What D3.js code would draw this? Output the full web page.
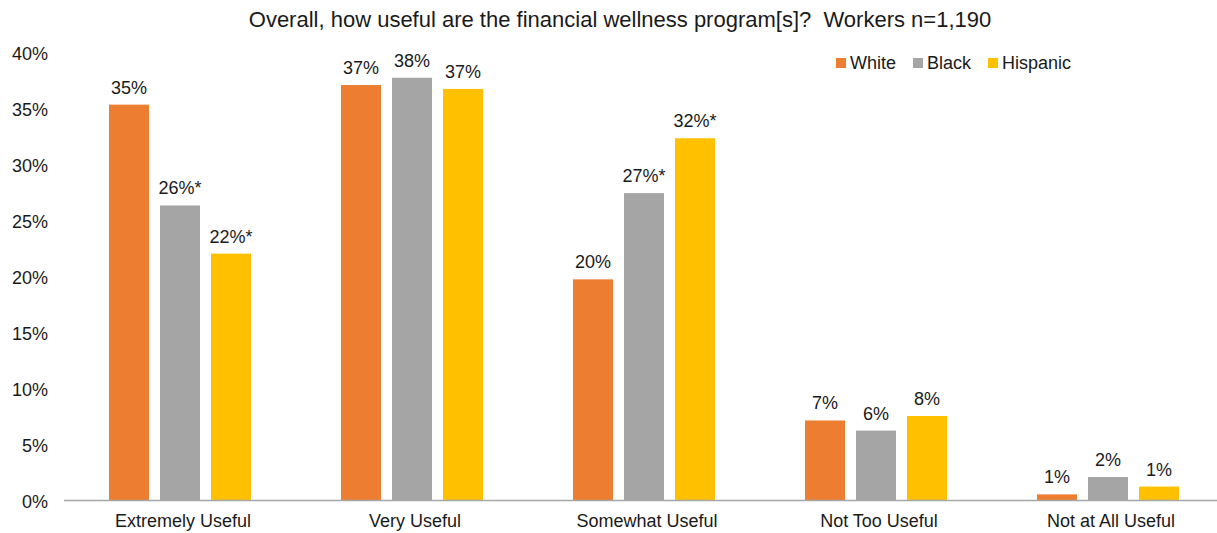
<!DOCTYPE html>
<html><head><meta charset="utf-8">
<script src="https://cdn.jsdelivr.net/npm/d3@7"></script>
<style>
html,body{margin:0;padding:0;background:#fff;}
text{font-family:"Liberation Sans",Arial,sans-serif;fill:#1a1a1a;}
</style></head>
<body><svg id="chart" width="1217" height="533"></svg>
<script>
const categories = ["Extremely Useful","Very Useful","Somewhat Useful","Not Too Useful","Not at All Useful"];
const seriesNames = ["White","Black","Hispanic"];
const colors = ["#ED7D31","#A5A5A5","#FFC000"];
const white = [35.3, 37.05, 19.7, 7.1, 0.5];
const black = [26.3, 37.7, 27.4, 6.2, 2.05];
const hispanic = [22.0, 36.7, 32.3, 7.5, 1.2];
const whiteLabels = ["35%","37%","20%","7%","1%"];
const blackLabels = ["26%*","38%","27%*","6%","2%"];
const hispanicLabels = ["22%*","37%","32%*","8%","1%"];
const yTicks = [0,5,10,15,20,25,30,35,40];
const title = "Overall, how useful are the financial wellness program[s]?  Workers n=1,190";

const values = [white, black, hispanic];
const labels = [whiteLabels, blackLabels, hispanicLabels];

const svg = d3.select("#chart");
const W = 1217;
const x0 = d3.scaleBand().domain(categories).range([64, 1224]).paddingInner(0).paddingOuter(0);
const x1 = d3.scaleBand().domain(seriesNames).range([-71, 71]).paddingInner(0.2157).paddingOuter(0);
const y = d3.scaleLinear().domain([0, 40]).range([500, 52]);

// title
svg.append("text").attr("x", 620).attr("y", 27).attr("text-anchor","middle")
  .style("font-size","22px").style("white-space","pre").text(title);

// y axis labels
const yAxis = d3.axisLeft(y).tickValues(yTicks).tickFormat(d => d + "%").tickSize(0).tickPadding(0);
const gy = svg.append("g").attr("transform","translate(48,0)").call(yAxis);
gy.select(".domain").remove();
gy.selectAll("text").attr("dy","0.42em").style("font-size","18px").style("font-family",'"Liberation Sans",Arial,sans-serif').attr("fill","#1a1a1a");

// bars
categories.forEach((c, ci) => {
  const cx = x0(c) + x0.bandwidth()/2;
  seriesNames.forEach((s, si) => {
    const v = values[si][ci];
    svg.append("rect")
      .attr("x", cx + x1(s)).attr("y", y(v))
      .attr("width", x1.bandwidth()).attr("height", y(0) - y(v))
      .attr("fill", colors[si]);
    svg.append("text")
      .attr("x", cx + x1(s) + x1.bandwidth()/2).attr("y", y(v) - 11)
      .attr("text-anchor","middle").style("font-size","18px")
      .text(labels[si][ci]);
  });
});

// x axis
const xAxis = d3.axisBottom(x0).tickSize(0).tickPadding(14);
const gx = svg.append("g").attr("transform","translate(3,500)").call(xAxis);
gx.select(".domain").remove();
gx.selectAll("text").style("font-size","18px").style("font-family",'"Liberation Sans",Arial,sans-serif').attr("fill","#1a1a1a");
svg.append("line").attr("x1",64).attr("x2",W).attr("y1",500.5).attr("y2",500.5)
  .attr("stroke","#A6A6A6").attr("stroke-width",1.3);

// legend
const legendX = [836, 913, 988];
seriesNames.forEach((s, i) => {
  svg.append("rect").attr("x", legendX[i]).attr("y", 58).attr("width", 10).attr("height", 10).attr("fill", colors[i]);
  svg.append("text").attr("x", legendX[i] + 14).attr("y", 69).style("font-size","18px").text(s);
});
</script></body></html>
